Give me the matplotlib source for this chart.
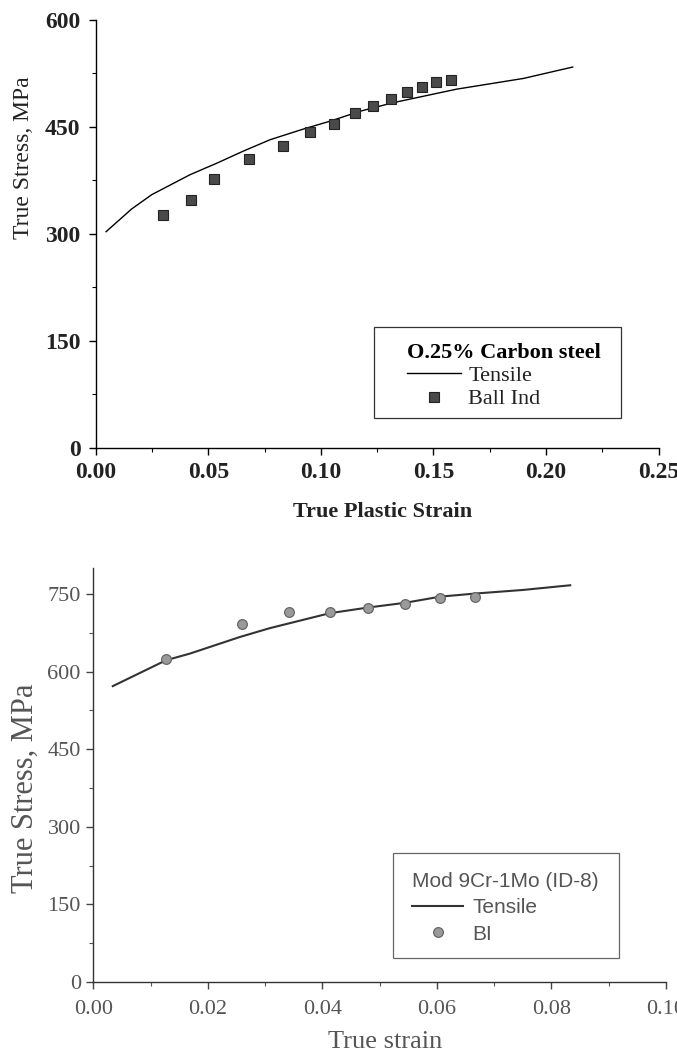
import matplotlib
matplotlib.use("Agg")
import matplotlib.pyplot as plt
from matplotlib.ticker import MultipleLocator, FormatStrFormatter
from matplotlib.patches import Rectangle

# ---- data: 0.25% carbon steel ----
carbon_tensile_strain = [0.0046, 0.0160, 0.0249, 0.0419, 0.0537, 0.0655, 0.0774, 0.0922,
                         0.1040, 0.1174, 0.1321, 0.1603, 0.1899, 0.2118]
carbon_tensile_stress = [303, 335, 355, 383, 399, 416, 432, 447, 458, 472, 484, 503, 518, 534]
carbon_bi_strain = [0.0300, 0.0423, 0.0527, 0.0679, 0.0833, 0.0952, 0.1058, 0.1151,
                    0.1233, 0.1310, 0.1381, 0.1448, 0.1510, 0.1578]
carbon_bi_stress = [327, 348, 377, 405, 423, 443, 454, 469, 479, 489, 499, 506, 513, 516]

# ---- data: Mod 9Cr-1Mo (ID-8) ----
mod_tensile_strain = [0.0034, 0.0127, 0.0169, 0.0256, 0.0308, 0.0413, 0.0480, 0.0544,
                      0.0606, 0.0667, 0.0751, 0.0833]
mod_tensile_stress = [572, 622, 635, 667, 684, 713, 724, 733, 745, 751, 758, 767]
mod_bi_strain = [0.0127, 0.0260, 0.0341, 0.0413, 0.0480, 0.0544, 0.0606, 0.0667]
mod_bi_stress = [624, 692, 715, 716, 724, 731, 742, 745]

W, H = 677, 1051
fig = plt.figure(figsize=(W / 100, H / 100), dpi=100)
fig.patch.set_facecolor("white")

serif = "Liberation Serif"
sans = "Liberation Sans"


def frac(l, t, r, b):
    return [l / W, 1 - b / H, (r - l) / W, (b - t) / H]


def frame(l, t, r, b, color):
    fig.patches.append(Rectangle((l / W, 1 - b / H), (r - l) / W, (b - t) / H,
                                 transform=fig.transFigure, fill=False,
                                 edgecolor=color, linewidth=0.9, zorder=5))


# ================= Top chart =================
ax1 = fig.add_axes(frac(95.7, 20, 658.7, 447.7))
ax1.plot(carbon_tensile_strain, carbon_tensile_stress, color="black", lw=1.0, label="Tensile")
ax1.plot(carbon_bi_strain, carbon_bi_stress, ls="none", marker="s", ms=6.5,
         mfc="#4a4a4a", mec="#222222", mew=0.8, label="Ball Ind")
ax1.set_xlim(0, 0.25)
ax1.set_ylim(0, 600)
ax1.xaxis.set_major_locator(MultipleLocator(0.05))
ax1.xaxis.set_minor_locator(MultipleLocator(0.025))
ax1.yaxis.set_major_locator(MultipleLocator(150))
ax1.yaxis.set_minor_locator(MultipleLocator(75))
ax1.xaxis.set_major_formatter(FormatStrFormatter("%.2f"))
for s in ["top", "right"]:
    ax1.spines[s].set_visible(False)
for s in ["left", "bottom"]:
    ax1.spines[s].set_linewidth(1.0)
ax1.tick_params(which="major", direction="out", length=5, width=1.0, labelsize=17,
                labelcolor="#222222")
ax1.tick_params(which="minor", direction="out", length=3, width=0.8)
ax1.tick_params(axis="x", pad=5)
ax1.tick_params(axis="y", pad=6)
for lab in ax1.get_xticklabels() + ax1.get_yticklabels():
    lab.set_family(serif)
    lab.set_fontweight("bold")
ax1.set_xlabel("True Plastic Strain", family=serif, fontweight="bold", fontsize=16,
               color="#222222")
ax1.set_ylabel("True Stress, MPa", family=serif, fontsize=17, color="#222222")
ax1.xaxis.set_label_coords(0.51, -0.128)
ax1.yaxis.set_label_coords(-0.11, 0.678)

leg1 = ax1.legend(title="O.25% Carbon steel", loc="upper left",
                  bbox_to_anchor=(407 / W, 1 - 343 / H), bbox_transform=fig.transFigure,
                  frameon=False, borderaxespad=0, borderpad=0,
                  handlelength=2.45, handletextpad=0.3, labelspacing=0.12,
                  prop={"family": serif, "size": 16},
                  title_fontproperties={"family": serif, "size": 16, "weight": "bold"})
leg1._legend_box.align = "left"
for t in leg1.get_texts():
    t.set_color("#222222")
frame(374, 327, 621, 418, "#333333")

# ================= Bottom chart =================
ax2 = fig.add_axes(frac(93.3, 568.2, 665.8, 982))
ax2.plot(mod_tensile_strain, mod_tensile_stress, color="#333333", lw=1.5, label="Tensile")
ax2.plot(mod_bi_strain, mod_bi_stress, ls="none", marker="o", ms=7,
         mfc="#9a9a9a", mec="#666666", mew=0.9, label="BI")
ax2.set_xlim(0, 0.10)
ax2.set_ylim(0, 800)
ax2.xaxis.set_major_locator(MultipleLocator(0.02))
ax2.xaxis.set_minor_locator(MultipleLocator(0.01))
ax2.yaxis.set_major_locator(MultipleLocator(150))
ax2.yaxis.set_minor_locator(MultipleLocator(75))
ax2.xaxis.set_major_formatter(FormatStrFormatter("%.2f"))
for s in ["top", "right"]:
    ax2.spines[s].set_visible(False)
for s in ["left", "bottom"]:
    ax2.spines[s].set_linewidth(1.0)
    ax2.spines[s].set_color("#333333")
ax2.tick_params(which="major", direction="out", length=5, width=1.0, labelsize=16,
                labelcolor="#555555", color="#444444")
ax2.tick_params(which="minor", direction="out", length=3, width=0.8, color="#555555")
ax2.tick_params(axis="x", pad=8)
ax2.tick_params(axis="y", pad=4)
for lab in ax2.get_xticklabels() + ax2.get_yticklabels():
    lab.set_family(serif)
ax2.set_xlabel("True strain", family=serif, fontsize=19, color="#555555")
ax2.set_ylabel("True Stress, MPa", family=serif, fontsize=22, color="#555555")
ax2.xaxis.set_label_coords(0.51, -0.118)
ax2.yaxis.set_label_coords(-0.094, 0.469)

leg2 = ax2.legend(title="Mod 9Cr-1Mo (ID-8)", loc="upper left",
                  bbox_to_anchor=(412 / W, 1 - 872 / H), bbox_transform=fig.transFigure,
                  frameon=False, borderaxespad=0, borderpad=0,
                  handlelength=2.45, handletextpad=0.45, labelspacing=0.35,
                  prop={"family": sans, "size": 15},
                  title_fontproperties={"family": sans, "size": 15})
leg2._legend_box.align = "left"
for t in leg2.get_texts():
    t.set_color("#555555")
leg2.get_title().set_color("#555555")
frame(392.7, 853, 619.3, 958, "#666666")

fig.savefig("out.png", dpi=100, facecolor="white")
